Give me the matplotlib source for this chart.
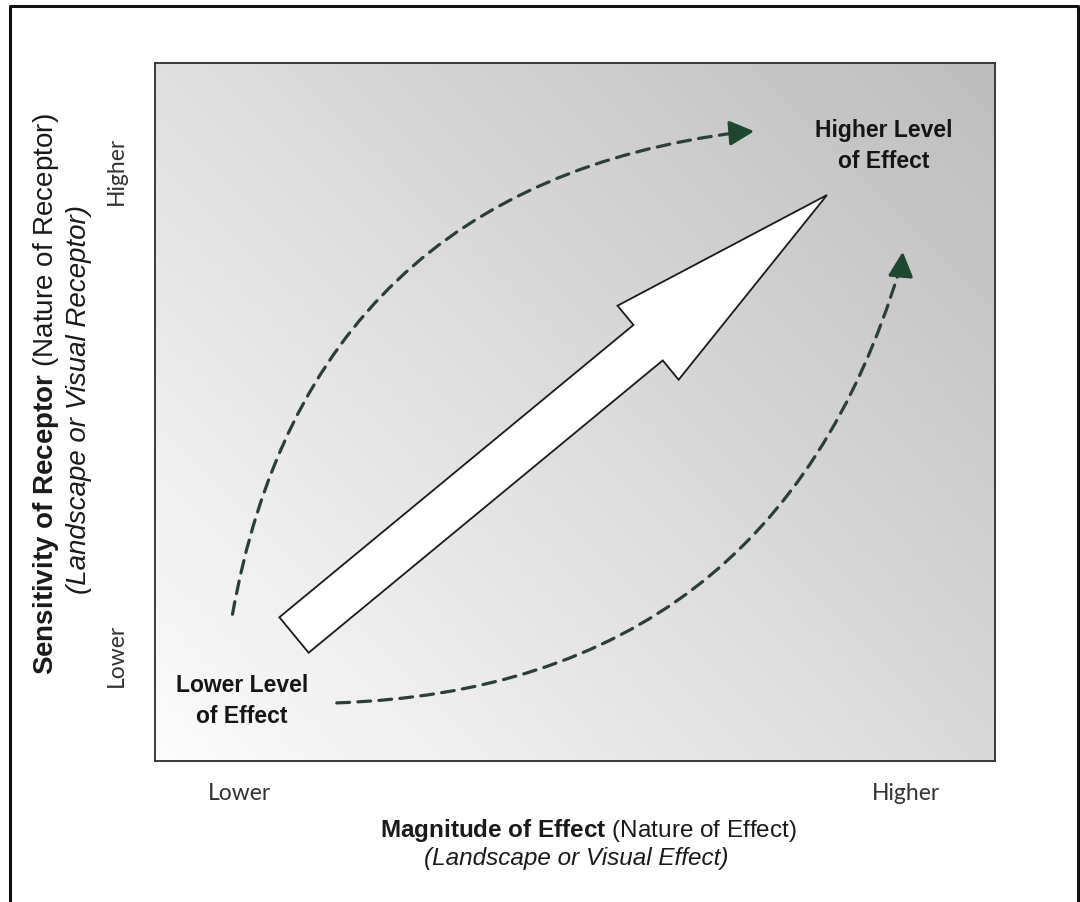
import numpy as np
import matplotlib.pyplot as plt
from matplotlib.patches import FancyArrow, FancyArrowPatch
from matplotlib.lines import Line2D

plt.rcParams['font.family'] = ['Liberation Sans', 'DejaVu Sans']
plt.rcParams['mathtext.fontset'] = 'custom'
plt.rcParams['mathtext.rm'] = 'Liberation Sans'
plt.rcParams['mathtext.bf'] = 'Liberation Sans:bold'
plt.rcParams['mathtext.it'] = 'Liberation Sans:italic'

W, H = 1080, 902  # figure size in pixels

# scale words on the two axes (axes fraction)
x_levels = ["Lower", "Higher"]
x_level_pos = [0.10, 0.894]
y_levels = ["Lower", "Higher"]
y_level_pos = [0.152, 0.845]

x_title = r"$\bf{Magnitude\ of\ Effect}$ (Nature of Effect)"
x_subtitle = "(Landscape or Visual Effect)"
y_title = r"$\bf{Sensitivity\ of\ Receptor}$ (Nature of Receptor)"
y_subtitle = "(Landscape or Visual Receptor)"

corner_labels = ["Lower Level\nof Effect", "Higher Level\nof Effect"]
corner_label_xy = [(242, 701), (884, 146)]   # pixels

# big white arrow, pixels
main_tail = (294, 635)
main_tip = (827, 195)
shaft_w, head_w, head_len = 46, 96, 232

# dashed curved arrows: start, end, bend, head segment
curve_starts = [(232, 617), (334, 703)]
curve_ends = [(742, 132), (900, 268)]
curve_rads = [-0.37, 0.36]
head_from = [(732, 133), (901, 272)]
head_to = [(757, 131), (903, 249)]

# background shade at the corners of the box (0-255): bottom-left, bottom-right, top-left, top-right
shade_bl, shade_br, shade_tl, shade_tr = 252, 217, 223, 189

fig = plt.figure(figsize=(W / 100, H / 100), dpi=100)

box = [155, 63, 995, 761]
ax = fig.add_axes([box[0] / W, 1 - box[3] / H, (box[2] - box[0]) / W, (box[3] - box[1]) / H])
u, w = np.meshgrid(np.linspace(0, 1, 200), np.linspace(0, 1, 200))
grad = (shade_bl * (1 - u) * (1 - w) + shade_br * u * (1 - w)
        + shade_tl * (1 - u) * w + shade_tr * u * w) / 255.0
ax.imshow(np.dstack([grad] * 3), extent=(0, 1, 0, 1), origin='lower', aspect='auto')
ax.set_xlim(0, 1)
ax.set_ylim(0, 1)
for s in ax.spines.values():
    s.set_color('#3a3a3a')
    s.set_linewidth(1.4)
ax.set_xticks(x_level_pos, x_levels, fontfamily='Lato', fontsize=16.5, color='#333333')
ax.set_yticks(y_level_pos, y_levels, fontfamily='Lato', fontsize=16.5, color='#333333',
              rotation=90, va='center')
ax.tick_params(axis='x', length=0, pad=16)
ax.tick_params(axis='y', length=0, pad=20)

# overlay in pixel coordinates
ov = fig.add_axes([0, 0, 1, 1], facecolor='none')
ov.set_xlim(0, W)
ov.set_ylim(H, 0)
ov.axis('off')

ov.add_line(Line2D([10, 10, 1078, 1078], [H, 6, 6, H], color='#111111', lw=2.2))

ov.add_patch(FancyArrow(main_tail[0], main_tail[1],
                        main_tip[0] - main_tail[0], main_tip[1] - main_tail[1],
                        width=shaft_w, head_width=head_w, head_length=head_len,
                        length_includes_head=True, facecolor='white',
                        edgecolor='#1a1a1a', lw=1.3, zorder=3))

dash_col = '#2c3f34'
for p0, p1, rad in zip(curve_starts, curve_ends, curve_rads):
    ov.add_patch(FancyArrowPatch(p0, p1, connectionstyle=f"arc3,rad={rad}",
                                 arrowstyle='-', color=dash_col, lw=2.3,
                                 linestyle=(0, (4, 2.6)), zorder=2))
for p0, p1 in zip(head_from, head_to):
    ov.add_patch(FancyArrowPatch(p0, p1, arrowstyle='-|>,head_length=0.75,head_width=0.38',
                                 mutation_scale=20, color='#1f4630', lw=2.3, zorder=2))

for txt, (x, y) in zip(corner_labels, corner_label_xy):
    ov.text(x, y, txt, ha='center', va='center', fontsize=16.5, fontweight='bold',
            color='#151515', linespacing=1.4)

ov.text(588, 830, x_title, ha='center', va='center', fontsize=17.5, color='#1a1a1a')
ov.text(576, 858, x_subtitle, ha='center', va='center', fontsize=17.5, style='italic',
        color='#1a1a1a')
ov.text(46, 394, y_title, ha='center', va='center', fontsize=20, rotation=90, color='#1a1a1a')
ov.text(79, 400, y_subtitle, ha='center', va='center', fontsize=20, rotation=90,
        style='italic', color='#1a1a1a')

fig.savefig("out.png", dpi=100)
